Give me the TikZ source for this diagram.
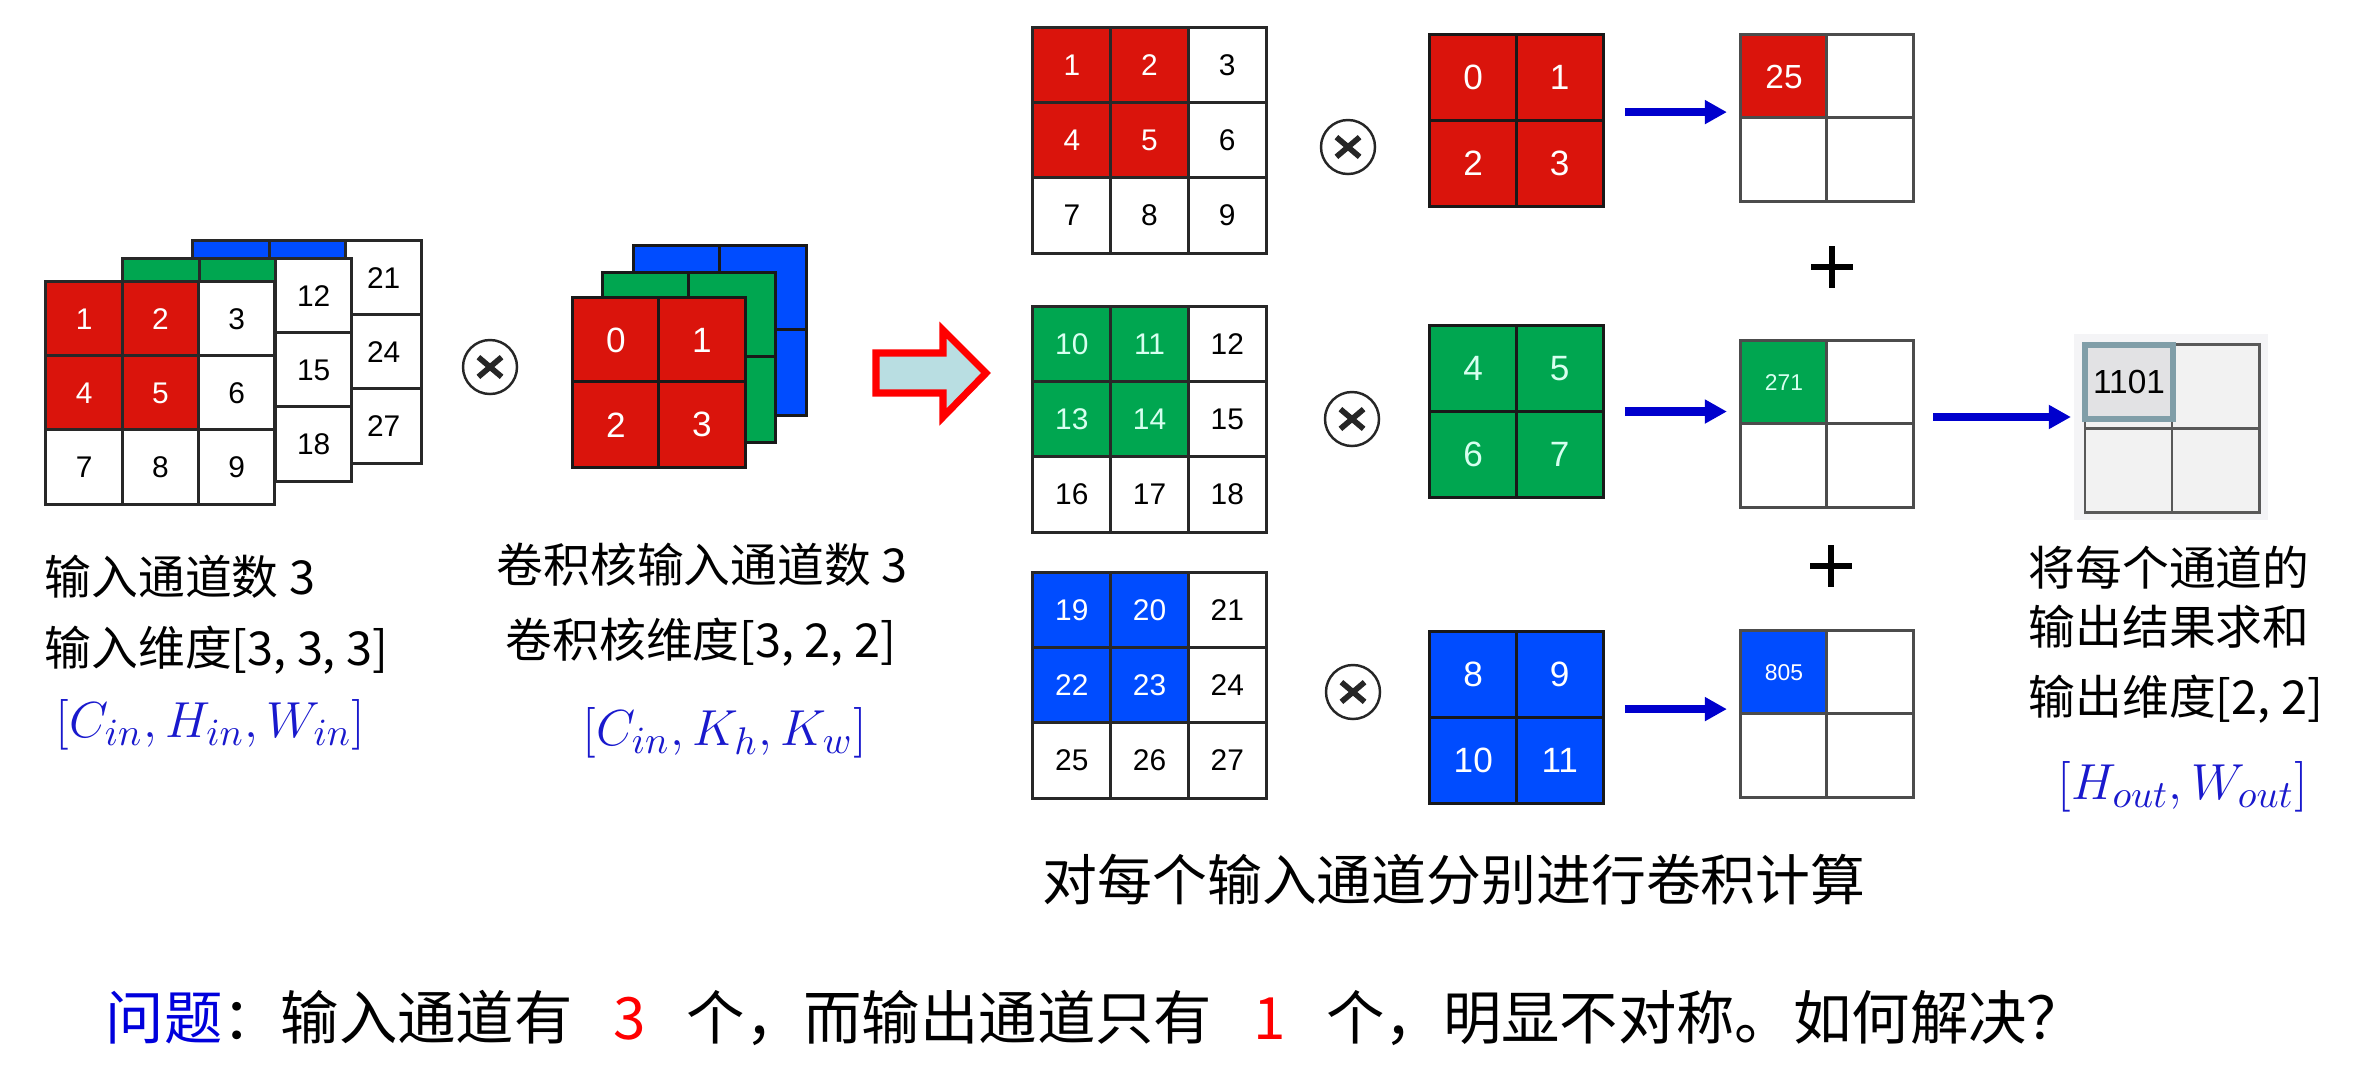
\documentclass[tikz,border=0pt]{standalone}
\usepackage{fontspec}
\setmainfont{Noto Sans CJK SC}
\newfontfamily\cellfont{Liberation Sans}
\usetikzlibrary{arrows.meta}
\definecolor{CellRed}{RGB}{218,20,12}
\definecolor{CellGreen}{RGB}{0,166,80}
\definecolor{CellBlue}{RGB}{0,76,255}
\definecolor{MintText}{RGB}{215,255,240}
\definecolor{GridLine}{RGB}{40,40,40}
\definecolor{FlowBlue}{RGB}{0,0,205}
\definecolor{MathBlue}{RGB}{25,25,205}
\definecolor{ArrowFill}{RGB}{185,222,226}
\definecolor{PanelGray}{RGB}{244,244,246}
\definecolor{SumCell}{RGB}{226,226,228}
\definecolor{SumEdge}{RGB}{128,158,168}
\definecolor{QBlue}{RGB}{0,0,220}
\tikzset{
	cell/.style={draw=GridLine,line width=0.85pt,fill=white,inner sep=0pt,outer sep=0pt,
		font=\cellfont\fontsize{8.5}{10}\selectfont},
	incell/.style={cell,minimum width=0.763cm,minimum height=0.74cm},
	gcell/.style={cell,minimum width=0.777cm,minimum height=0.75cm},
	kcell/.style={cell,draw=black!90,minimum width=0.865cm,minimum height=0.855cm,
		font=\cellfont\fontsize{10}{12}\selectfont},
	ocell/.style={cell,draw=black!70,minimum width=0.86cm,minimum height=0.83cm},
	scell/.style={cell,draw=black!65,fill=black!5,minimum width=0.87cm,minimum height=0.835cm},
	sumhi/.style={draw=SumEdge,line width=1.5pt,fill=SumCell,inner sep=0pt,
		minimum width=0.88cm,minimum height=0.74cm,font=\cellfont\fontsize{9.5}{11}\selectfont},
	otimes/.style={circle,draw=black!85,line width=0.7pt,minimum size=0.54cm,inner sep=0pt,
		path picture={\draw[line width=1.6pt] (path picture bounding box.center)
			++(-3.3pt,-2.8pt) -- ++(6.6pt,5.6pt) ++(0,-5.6pt) -- ++(-6.6pt,5.6pt);}},
	flow/.style={draw=FlowBlue,line width=2.3pt,-{Triangle[length=6.3pt,width=6.5pt]},
		shorten <=6.2pt,shorten >=4pt},
	plusmark/.style={line width=1.9pt},
	bigarrow/.style={draw=red,line width=2pt,fill=ArrowFill,line join=miter},
	lab/.style={anchor=west,inner sep=0pt,font=\fontsize{13.3}{16}\selectfont},
	mathlab/.style={anchor=west,inner sep=0pt,text=MathBlue,font=\fontsize{15}{18}\selectfont},
}

\begin{document}
\begin{tikzpicture}[x=0.01cm,y=-0.01cm]
	\useasboundingbox (0,0) rectangle (2375,1081);
	% input tensor, channels back to front
	\foreach \lay/\ox/\oy/\col/\tcol/\first/\front in {ib/193/241/CellBlue/white/19/0,ig/123/259/CellGreen/MintText/10/0,ir/46/282/CellRed/white/1/1}{
		\foreach \idx in {0,...,8}{
			\pgfmathtruncatemacro\ri{div(\idx,3)}
			\pgfmathtruncatemacro\ci{mod(\idx,3)}
			\pgfmathtruncatemacro\n{\first+\idx}
			\pgfmathtruncatemacro\hot{(\ri<2)&&(\ci<2)}
			\pgfmathtruncatemacro\shown{(\front==1)||(\ci==2)}
			\ifnum\hot=1 \edef\fc{\col}\edef\tc{\tcol}\else\def\fc{white}\def\tc{black}\fi
			\ifnum\shown=1 \edef\txt{\n}\else\def\txt{}\fi
			\node[incell,fill=\fc,text=\tc] (\lay\n) at ({\ox+(\ci+0.5)*76.3},{\oy+(\ri+0.5)*74}) {\txt};
		}
	}
	% kernel stack
	\foreach \lay/\ox/\oy/\col in {lkb/634/246/CellBlue,lkg/603/273/CellGreen}{
		\foreach \idx in {0,...,3}{
			\pgfmathtruncatemacro\ri{div(\idx,2)}
			\pgfmathtruncatemacro\ci{mod(\idx,2)}
			\node[kcell,fill=\col] (\lay\idx) at ({\ox+(\ci+0.5)*86},{\oy+(\ri+0.5)*84.5}) {};
		}
	}
	\foreach \idx in {0,...,3}{
		\pgfmathtruncatemacro\ri{div(\idx,2)}
		\pgfmathtruncatemacro\ci{mod(\idx,2)}
		\node[kcell,fill=CellRed,text=white] (lkr\idx) at ({573+(\ci+0.5)*86},{298+(\ri+0.5)*84.5}) {\idx};
	}
	\node[otimes] (x0) at (490,367) {};
	\draw[bigarrow] (876,353) -- (943,353) -- (943,330) -- (986,373) -- (943,417) -- (943,393) -- (876,393) -- cycle;

	% one channel per row
	\foreach \g/\oy/\col/\tcol/\first in {a/28/CellRed/white/1,b/307/CellGreen/MintText/10,c/573/CellBlue/white/19}{
		\foreach \idx in {0,...,8}{
			\pgfmathtruncatemacro\ri{div(\idx,3)}
			\pgfmathtruncatemacro\ci{mod(\idx,3)}
			\pgfmathtruncatemacro\n{\first+\idx}
			\pgfmathtruncatemacro\hot{(\ri<2)&&(\ci<2)}
			\ifnum\hot=1 \edef\fc{\col}\edef\tc{\tcol}\else\def\fc{white}\def\tc{black}\fi
			\node[gcell,fill=\fc,text=\tc] (g\g\n) at ({1033+(\ci+0.5)*77.7},{\oy+(\ri+0.5)*75}) {\n};
		}
	}
	\foreach \g/\oy/\col/\tcol/\first in {a/35/CellRed/white/0,b/326/CellGreen/MintText/4,c/632/CellBlue/white/8}{
		\foreach \idx in {0,...,3}{
			\pgfmathtruncatemacro\ri{div(\idx,2)}
			\pgfmathtruncatemacro\ci{mod(\idx,2)}
			\pgfmathtruncatemacro\n{\first+\idx}
			\node[kcell,fill=\col,text=\tcol] (rk\g\idx) at ({1430+(\ci+0.5)*86.5},{\oy+(\ri+0.5)*85.5}) {\n};
		}
	}
	\foreach \g/\oy/\col/\tcol/\val/\fs in {a/35/CellRed/white/25/9.5,b/341/CellGreen/MintText/271/6.5,c/631/CellBlue/white/805/6.5}{
		\node[ocell,fill=\col,text=\tcol,font=\cellfont\fontsize{\fs}{\fs}\selectfont] (o\g0) at (1784,{\oy+41.5}) {\val};
		\node[ocell] (o\g1) at (1870,{\oy+41.5}) {};
		\node[ocell] (o\g2) at (1784,{\oy+124.5}) {};
		\node[ocell] (o\g3) at (1870,{\oy+124.5}) {};
	}
	\node[otimes] (x1) at (1348,147) {};
	\node[otimes] (x2) at (1352,419) {};
	\node[otimes] (x3) at (1353,692) {};
	\coordinate (ta) at ([yshift=2.4pt]rka1.south east);
	\coordinate (tc) at ([yshift=2.4pt]rkc1.south east);
	\draw[flow] (ta) -- (ta -| oa0.west);
	\draw[flow] (rkb1.south east) -- (rkb1.south east -| ob0.west);
	\draw[flow] (tc) -- (tc -| oc0.west);
	\draw[plusmark] (1832,246) -- (1832,288) (1811,267) -- (1853,267);
	\draw[plusmark] (1831,545) -- (1831,587) (1810,566) -- (1852,566);

	% summed output
	\fill[PanelGray] (2074,334) rectangle (2268,520);
	\node[scell] (s0) at (2128.5,386.75) {};
	\node[scell] (s1) at (2215.5,386.75) {};
	\node[scell] (s2) at (2128.5,470.25) {};
	\node[scell] (s3) at (2215.5,470.25) {};
	\node[sumhi] (hi) at (2129,382) {1101};
	\coordinate (ts) at ([yshift=2pt]ob1.south east);
	\draw[flow,shorten <=5.7pt] (ts) -- (ts -| s0.west);

	% labels
	\node[lab] (inA) at (44,577) {输入通道数 3};
	\node[lab] (inB) at (44,650) {输入维度[3, 3, 3]};
	\node[mathlab] (inM) at (55,725) {$[C_{in},H_{in},W_{in}]$};
	\node[lab] (kA) at (496,565) {卷积核输入通道数 3};
	\node[lab] (kB) at (505,642) {卷积核维度[3, 2, 2]};
	\node[mathlab] (kM) at (582,733) {$[C_{in},K_h,K_w]$};
	\node[lab] (sA) at (2028,568) {将每个通道的};
	\node[lab] (sB) at (2028,627) {输出结果求和};
	\node[lab] (sC) at (2028,699) {输出维度[2, 2]};
	\node[mathlab] (sM) at (2057,787) {$[H_{out},W_{out}]$};
	\node[font=\fontsize{15.6}{18}\selectfont] (cap) at (1454,880) {对每个输入通道分别进行卷积计算};
	\node[anchor=west,inner sep=0pt,font=\fontsize{16.6}{19}\selectfont] (ask) at (105,1018)
		{\textcolor{QBlue}{问题}：输入通道有\hspace{0.7em}\textcolor{red}{3}\hspace{0.7em}个，而输出通道只有\hspace{0.7em}\textcolor{red}{1}\hspace{0.7em}个，明显不对称。如何解决？};
\end{tikzpicture}
\end{document}
